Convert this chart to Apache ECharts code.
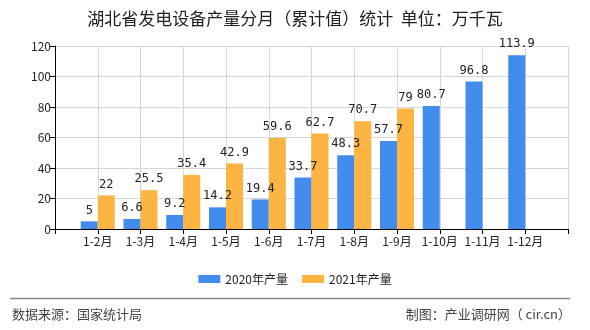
<!DOCTYPE html>
<html>
<head>
<meta charset="utf-8">
<script src="https://cdn.jsdelivr.net/npm/echarts@6/dist/echarts.min.js"></script>
<style>
html,body{margin:0;padding:0;background:#fff;}
#c{width:590px;height:330px;}
</style>
</head>
<body>
<div id="c"></div>
<script>
var categories = ['1-2月','1-3月','1-4月','1-5月','1-6月','1-7月','1-8月','1-9月','1-10月','1-11月','1-12月'];
var values2020 = [5, 6.6, 9.2, 14.2, 19.4, 33.7, 48.3, 57.7, 80.7, 96.8, 113.9];
var values2021 = [22, 25.5, 35.4, 42.9, 59.6, 62.7, 70.7, 79];
var yTicks = [0, 20, 40, 60, 80, 100, 120];

var axisCats = [''].concat(categories).concat(['']);
function pad(arr){
  var out = ['-'];
  for (var i = 0; i < categories.length; i++) out.push(i < arr.length ? arr[i] : '-');
  out.push('-');
  return out;
}
var font = '"Noto Sans CJK SC", "DejaVu Sans", sans-serif';
var chart = echarts.init(document.getElementById('c'));
chart.setOption({
  animation: false,
  title: {
    text: '湖北省发电设备产量分月（累计值）统计  单位：万千瓦',
    left: 'center', top: 5,
    textStyle: {fontSize: 17, fontWeight: 'normal', color: '#222', fontFamily: font}
  },
  legend: {
    top: 268, left: 'center',
    itemWidth: 22, itemHeight: 8, itemGap: 14,
    icon: 'rect',
    textStyle: {fontSize: 12, color: '#222', fontFamily: font},
    data: ['2020年产量', '2021年产量']
  },
  grid: {left: 55, right: 22, top: 46, bottom: 101},
  xAxis: {
    type: 'category', data: axisCats, boundaryGap: false,
    axisLine: {lineStyle: {color: '#000'}},
    axisTick: {show: true, length: 5, lineStyle: {color: '#000'}},
    axisLabel: {fontSize: 12, color: '#222', margin: 6, fontFamily: font, interval: 0},
    splitLine: {show: true, lineStyle: {color: '#d6d6d6'}}
  },
  yAxis: {
    type: 'value', min: yTicks[0], max: yTicks[yTicks.length-1], interval: 20,
    axisLine: {show: true, lineStyle: {color: '#000'}},
    axisTick: {show: true, length: 5, lineStyle: {color: '#000'}},
    axisLabel: {fontSize: 12, color: '#222', margin: 4, fontFamily: font},
    splitLine: {show: true, lineStyle: {color: '#d6d6d6'}}
  },
  series: [
    {
      name: '2020年产量', type: 'bar', data: pad(values2020),
      barWidth: 17, barGap: '0%',
      itemStyle: {color: '#418cec'},
      label: {show: true, position: 'top', distance: 5, fontSize: 12, color: '#222', fontFamily: '"DejaVu Sans Mono", monospace'}
    },
    {
      name: '2021年产量', type: 'bar', data: pad(values2021),
      barWidth: 17, barGap: '0%',
      itemStyle: {color: '#fcb443'},
      label: {show: true, position: 'top', distance: 5, fontSize: 12, color: '#222', fontFamily: '"DejaVu Sans Mono", monospace'}
    }
  ],
  graphic: [
    {type: 'line', shape: {x1: 10, y1: 298.5, x2: 570, y2: 298.5}, style: {stroke: '#888', lineWidth: 1.5}},
    {type: 'text', left: 12, top: 308, style: {text: '数据来源：国家统计局', fontSize: 13, fill: '#444', fontFamily: font}},
    {type: 'text', right: 19, top: 308, style: {text: '制图：产业调研网（ cir.cn）', fontSize: 13, fill: '#444', fontFamily: font}}
  ]
});
</script>
</body>
</html>
